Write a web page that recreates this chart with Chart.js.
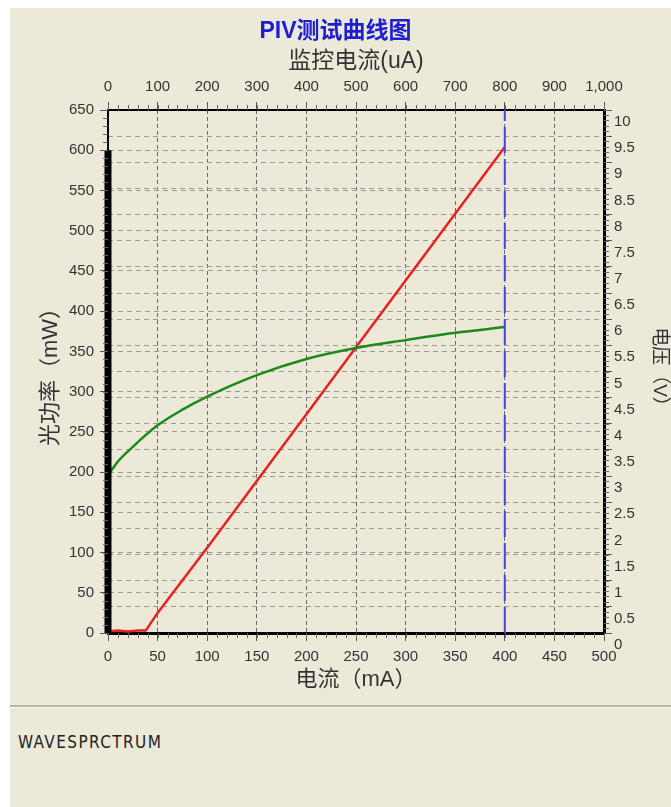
<!DOCTYPE html>
<html>
<head>
<meta charset="utf-8">
<script src="https://cdn.jsdelivr.net/npm/chart.js@4/dist/chart.umd.min.js"></script>
<style>
  html, body {
    margin: 0;
    padding: 0;
    background: #ffffff;
    width: 671px;
    height: 807px;
    overflow: hidden;
  }
  .panel {
    position: absolute;
    left: 10px;
    top: 8px;
    right: 0;
    bottom: 0;
    background: #ece9d8;
  }
  .chart-box {
    position: absolute;
    left: 0;
    top: 0;
    width: 671px;
    height: 705px;
  }
  .footer {
    position: absolute;
    left: 10px;
    right: 0;
    top: 705px;
    bottom: 0;
    border-top: 2px solid #b9b5a6;
    box-shadow: inset 0 1px 0 #f8f7f0;
  }
  .footer span {
    position: absolute;
    left: 8px;
    top: 25px;
    font: 17px "DejaVu Sans Condensed", "Liberation Sans Narrow", sans-serif;
    color: #222;
    letter-spacing: 1.4px;
  }
</style>
</head>
<body>
<div class="panel"></div>
<div class="chart-box"><canvas id="piv" width="671" height="705"></canvas></div>
<div class="footer"><span>WAVESPRCTRUM</span></div>

<script>
// P-I curve (left axis, mW)
const powerCurrent = [0, 10, 20, 30, 38, 50, 100, 150, 200, 250, 300, 350, 400];
const powerValues = [2, 3, 2, 3, 3, 25, 106, 189, 272, 355, 438, 521, 604];

// V-I curve (right axis, V)
const voltCurrent = [0, 5, 10, 25, 50, 75, 100, 150, 200, 250, 300, 350, 400];
const voltValues = [3.02, 3.15, 3.28, 3.56, 3.97, 4.27, 4.52, 4.93, 5.24, 5.45, 5.6, 5.74, 5.85];

// markers
const barCurrent = [0, 0];
const barPower = [0, 600];
const cursorCurrent = [400, 400];
const cursorPower = [0, 650];

// axis ranges
const currentRange = [0, 500];
const monitorRange = [0, 1000];
const powerRange = [0, 650];
const voltRange = [0, 10];

const toPoints = (xs, ys) => xs.map((x, i) => ({x, y: ys[i]}));

const TICK_FONT = {family: '"Liberation Sans", sans-serif', size: 15};
const TITLE_FONT = {family: '"Liberation Sans", "Noto Sans CJK SC", sans-serif', size: 22};
const TEXT_COLOR = '#333';
const TITLE_HEIGHT = 17 + 23 * 1.25;

// minor tick marks, drawn through each scale
const minorTicks = {
  id: 'minorTicks',
  afterDraw(chart) {
    const {ctx, chartArea} = chart;
    const specs = [
      {id: 'x', step: 10, side: 'bottom'},
      {id: 'x2', step: 20, side: 'top'},
      {id: 'y', step: 10, side: 'left'},
      {id: 'y2', step: 0.1, side: 'right'},
    ];
    ctx.save();
    ctx.strokeStyle = '#666';
    ctx.lineWidth = 1;
    specs.forEach(({id, step, side}) => {
      const scale = chart.scales[id];
      const count = Math.round((scale.max - scale.min) / step);
      for (let i = 0; i <= count; i++) {
        const pos = Math.round(scale.getPixelForValue(scale.min + i * step)) + 0.5;
        ctx.beginPath();
        if (side === 'bottom') { ctx.moveTo(pos, chartArea.bottom); ctx.lineTo(pos, chartArea.bottom + 5); }
        if (side === 'top') { ctx.moveTo(pos, chartArea.top); ctx.lineTo(pos, chartArea.top - 5); }
        if (side === 'left') { ctx.moveTo(chartArea.left, pos); ctx.lineTo(chartArea.left - 5, pos); }
        if (side === 'right') { ctx.moveTo(chartArea.right, pos); ctx.lineTo(chartArea.right + 5, pos); }
        ctx.stroke();
      }
    });
    ctx.restore();
  }
};

const axisBase = {
  type: 'linear',
  ticks: {font: TICK_FONT, color: TEXT_COLOR},
};

new Chart(document.getElementById('piv'), {
  type: 'line',
  data: {
    datasets: [
      {
        data: toPoints(barCurrent, barPower),
        xAxisID: 'x', yAxisID: 'y',
        borderColor: '#000', borderWidth: 7,
        pointRadius: 0, clip: false,
      },
      {
        data: toPoints(cursorCurrent, cursorPower),
        xAxisID: 'x', yAxisID: 'y',
        borderColor: '#4545e0', borderWidth: 2, borderDash: [26, 6],
        pointRadius: 0,
      },
      {
        data: toPoints(voltCurrent, voltValues),
        xAxisID: 'x', yAxisID: 'y2',
        borderColor: '#1a8a1a', borderWidth: 2.5,
        pointRadius: 0, cubicInterpolationMode: 'monotone',
      },
      {
        data: toPoints(powerCurrent, powerValues),
        xAxisID: 'x', yAxisID: 'y',
        borderColor: '#e52222', borderWidth: 2.5,
        pointRadius: 0, tension: 0,
      },
    ],
  },
  options: {
    responsive: false,
    animation: false,
    events: [],
    layout: {padding: 0},
    plugins: {
      legend: {display: false},
      tooltip: {enabled: false},
      title: {
        display: true,
        text: 'PIV测试曲线图',
        color: '#1d1dd2',
        font: {family: '"Liberation Sans", "Noto Sans CJK SC", sans-serif', size: 23, weight: 'bold', lineHeight: 1.25},
        padding: {top: 17, bottom: 0},
      },
    },
    scales: {
      x: {
        ...axisBase,
        position: 'bottom',
        min: currentRange[0], max: currentRange[1],
        border: {display: true, color: '#000', width: 3, dash: [4, 3]},
        grid: {color: '#6a6a6a', tickColor: '#555', tickBorderDash: [], tickLength: 8},
        ticks: {...axisBase.ticks, stepSize: 50, padding: 7, maxRotation: 0},
        title: {display: true, text: '电流（mA）', font: TITLE_FONT, color: TEXT_COLOR, padding: {top: 0, bottom: 12}},
        afterFit: (scale) => { scale.height = 72; },
      },
      x2: {
        ...axisBase,
        position: 'top',
        min: monitorRange[0], max: monitorRange[1],
        border: {display: true, color: '#000', width: 2},
        grid: {drawOnChartArea: false, tickColor: '#555', tickLength: 8},
        ticks: {...axisBase.ticks, stepSize: 100, padding: 6, maxRotation: 0},
        title: {display: true, text: '监控电流(uA)', font: {...TITLE_FONT, size: 23}, color: TEXT_COLOR, padding: {top: 2, bottom: 0}},
        afterFit: (scale) => { scale.height = 110 - TITLE_HEIGHT; },
      },
      y: {
        ...axisBase,
        position: 'left',
        min: powerRange[0], max: powerRange[1],
        border: {display: true, color: '#000', width: 2, dash: [5, 4]},
        grid: {color: '#9a9a9a', tickColor: '#555', tickBorderDash: [], tickLength: 8},
        ticks: {...axisBase.ticks, stepSize: 50, padding: 6},
        title: {display: true, text: '光功率（mW）', font: TITLE_FONT, color: TEXT_COLOR, padding: {top: 38, bottom: 0}},
        afterFit: (scale) => { scale.width = 108; },
      },
      y2: {
        ...axisBase,
        position: 'right',
        min: voltRange[0], max: voltRange[1],
        border: {display: true, color: '#000', width: 3, dash: [5, 4]},
        grid: {color: '#9a9a9a', tickColor: '#555', tickBorderDash: [], tickLength: 8},
        ticks: {...axisBase.ticks, stepSize: 0.5, padding: 2, labelOffset: 12,
          callback: (val) => String(Math.round(val * 10) / 10)},
        title: {display: true, text: '电压（V）', font: {...TITLE_FONT, size: 19}, color: TEXT_COLOR, padding: {top: 0, bottom: 0}},
        afterFit: (scale) => { scale.width = 67; },
      },
    },
  },
  plugins: [minorTicks],
});
</script>
</body>
</html>
